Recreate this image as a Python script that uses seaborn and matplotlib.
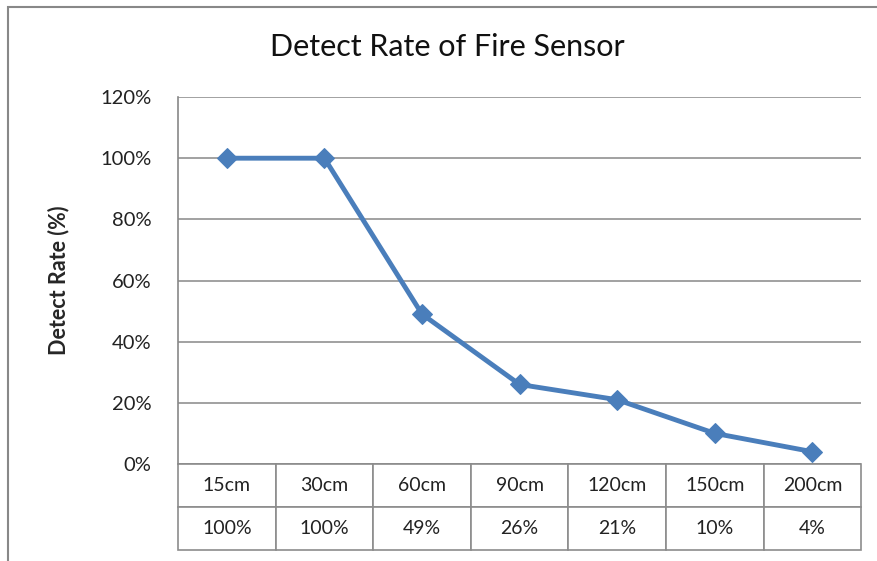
import pandas as pd
import matplotlib.pyplot as plt
import seaborn as sns
from matplotlib.ticker import PercentFormatter
from matplotlib.patches import Rectangle

# values
distances = ['15cm', '30cm', '60cm', '90cm', '120cm', '150cm', '200cm']
rates = [100, 100, 49, 26, 21, 10, 4]
rate_labels = [f'{r}%' for r in rates]

data = pd.DataFrame({'Distance': distances, 'Detect Rate': rates})

sns.set_style('white')
plt.rcParams['font.family'] = ['Lato', 'DejaVu Sans']

fig = plt.figure(figsize=(8.77, 5.61), dpi=100)
ax = fig.add_axes([0.203, 0.173, 0.779, 0.654])

sns.lineplot(x='Distance', y='Detect Rate', data=data, ax=ax, color='#4A7EBB',
             linewidth=3.5, marker='D', markersize=10, markeredgecolor='#4A7EBB')

ax.set_xlim(-0.5, len(distances) - 0.5)
ax.set_ylim(0, 120)
ax.set_yticks(range(0, 121, 20))
ax.yaxis.set_major_formatter(PercentFormatter(100, decimals=0))
ax.tick_params(axis='y', length=0, pad=19, labelsize=14.5, labelcolor='#222222')
ax.set_xticks([])
ax.set_xlabel('')
ax.set_ylabel('Detect Rate (%)', fontsize=15.5, fontweight='bold', labelpad=22)
ax.grid(axis='y', color='#888888', linewidth=1.1)
ax.set_axisbelow(True)
for side in ['top', 'right', 'bottom']:
    ax.spines[side].set_visible(False)
ax.spines['left'].set_color('#888888')
ax.spines['left'].set_linewidth(1.2)

# data table below the plot area
tbl = ax.table(cellText=[distances, rate_labels], cellLoc='center',
               bbox=[0, -0.234, 1, 0.234])
tbl.auto_set_font_size(False)
tbl.set_fontsize(14)
for cell in tbl.get_celld().values():
    cell.set_edgecolor('#8c8c8c')
    cell.set_linewidth(1.2)
    cell.get_text().set_color('#222222')

fig.text(0.51, 0.917, 'Detect Rate of Fire Sensor', ha='center', va='center',
         fontsize=22, color='#111111')

# outer chart border
fig.patches.append(Rectangle((0.009, -0.05), 1.1, 1.0375, transform=fig.transFigure,
                             fill=False, edgecolor='#888888', linewidth=1.5))

fig.savefig('out.png', dpi=100)
